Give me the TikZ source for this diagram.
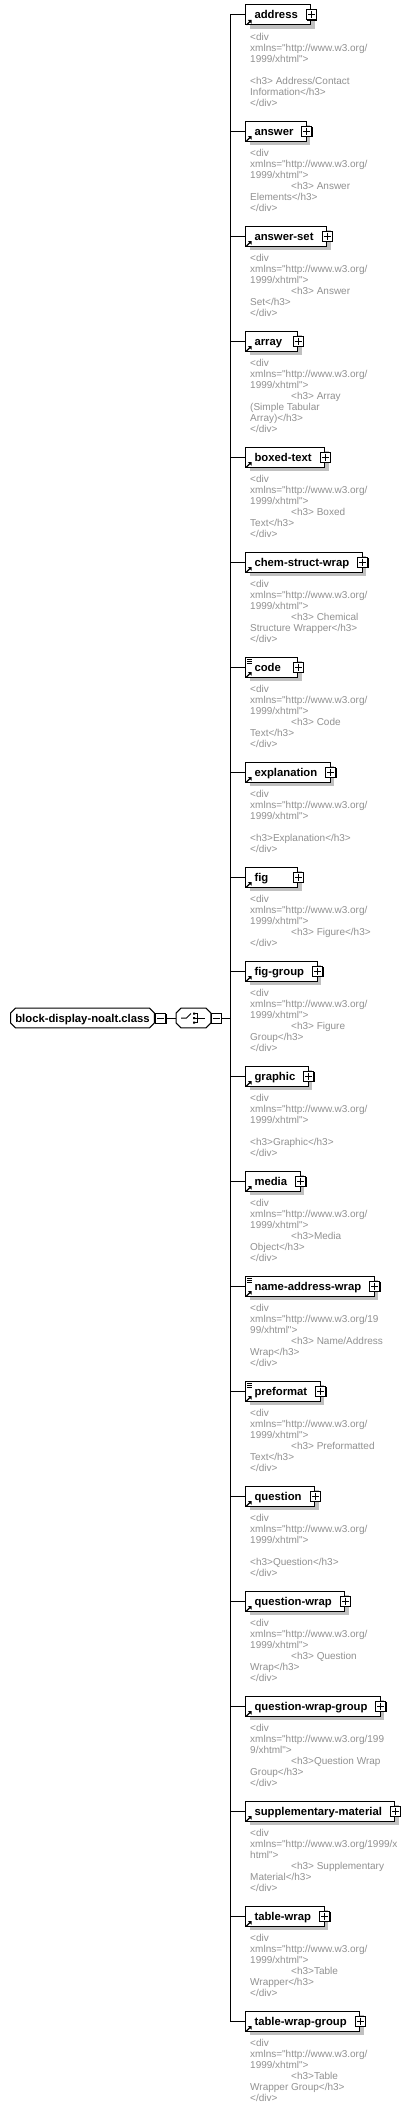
\documentclass[tikz,border=0pt]{standalone}
\usepackage{fontspec}
\usetikzlibrary{shadows,calc}
\newfontfamily\descfont{Liberation Sans}[Ligatures=TeXOff]
\newfontfamily\namefont{Liberation Sans}[Ligatures=TeXOff]
\definecolor{docgray}{RGB}{145,145,145}
\definecolor{shadowc}{RGB}{192,192,192}
\pgfdeclarelayer{bg}
\pgfsetlayers{bg,main}
\newlength\elw
\newcommand\elname[1]{\settowidth\elw{#1}\ifdim\elw<30pt\makebox[30pt][l]{#1}\else #1\fi\hspace*{4pt}}
\newcommand\ind{\hspace*{41pt}}
\newcommand\xa{xmlns="http://www.w3.org/}
\newcommand\xb{1999/xhtml">}
\tikzset{
  elbox/.style={draw=black, line width=1pt, fill=white, anchor=west, minimum height=20pt,
    inner xsep=9pt, inner ysep=0pt, text height=9.5pt, text depth=1.5pt,
    font=\namefont\bfseries\fontsize{11.3}{13}\selectfont,
    drop shadow={shadow xshift=4pt, shadow yshift=-4pt, fill=shadowc, opacity=1}},
  plusbox/.style={draw=black, line width=1pt, fill=white, minimum size=10pt, inner sep=0pt,
    drop shadow={shadow xshift=1pt, shadow yshift=-1pt, fill=black, opacity=1}},
  rootbox/.style={minimum height=19.5pt, inner xsep=0pt, inner ysep=0pt,
    text height=9.5pt, text depth=1.5pt,
    font=\namefont\bfseries\fontsize{11.3}{13}\selectfont},
  desc/.style={anchor=north west, align=left, inner sep=0pt, text=docgray,
    font=\descfont\fontsize{10}{11}\selectfont},
  conn/.style={draw=black, line width=1pt},
}
% chamfered outline of a node, drawn under it
\newcommand\octagon[1]{%
  \begin{pgfonlayer}{bg}
  \fill[shadowc, shift={(4,4)}] ($(#1.north west)+(5,0)$) -- ($(#1.north east)+(-5,0)$) -- ($(#1.north east)+(0,5)$)
    -- ($(#1.south east)+(0,-5)$) -- ($(#1.south east)+(-5,0)$) -- ($(#1.south west)+(5,0)$)
    -- ($(#1.south west)+(0,-5)$) -- ($(#1.north west)+(0,5)$) -- cycle;
  \filldraw[fill=white, draw=black, line width=1pt] ($(#1.north west)+(5,0)$) -- ($(#1.north east)+(-5,0)$) -- ($(#1.north east)+(0,5)$)
    -- ($(#1.south east)+(0,-5)$) -- ($(#1.south east)+(-5,0)$) -- ($(#1.south west)+(5,0)$)
    -- ($(#1.south west)+(0,-5)$) -- ($(#1.north west)+(0,5)$) -- cycle;
  \end{pgfonlayer}}
\newcommand\elem[5]{%
  \coordinate (b#1) at (230,{#2+10});
  \node[elbox] (#1) at (245,{#2+10}) {\elname{#3}};
  \node[plusbox] (#1p) at (#1.east) {};
  \draw[line width=1pt] ($(#1p.center)+(-3.5,0)$) -- ($(#1p.center)+(3.5,0)$)
    ($(#1p.center)+(0,-3.5)$) -- ($(#1p.center)+(0,3.5)$);
  \draw[conn] (b#1) -- (#1.west);
  \draw[line width=1.3pt] ($(#1.south west)+(1.5,-0.5)$) -- ($(#1.south west)+(5,-4)$);
  \fill ($(#1.south west)+(6.5,-5.5)$) -- ($(#1.south west)+(2.8,-5.5)$) -- ($(#1.south west)+(6.5,-1.8)$) -- cycle;
  \ifnum#4=1
    \draw[line width=0.8pt] ($(#1.north west)+(2,2.5)$) -- ++(5,0)
      ($(#1.north west)+(2,4.5)$) -- ++(5,0) ($(#1.north west)+(2,6.5)$) -- ++(5,0);
  \fi
  \node[desc] (#1d) at (250,{#2+27.5}) {\rule{0pt}{8pt}#5};
}
\begin{document}
\begin{tikzpicture}[x=1pt,y=-1pt]
\useasboundingbox (0,0) rectangle (413,2109);
\begin{pgfonlayer}{bg}
\fill[white] (0,0) rectangle (413,2109);
\end{pgfonlayer}

\elem{e1}{5}{address}{0}{<div\\\xa\\\xb\\\mbox{}\\<h3> Address/Contact\\Information</h3>\\</div>}
\elem{e2}{121}{answer}{0}{<div\\\xa\\\xb\\\ind<h3> Answer\\Elements</h3>\\</div>}
\elem{e3}{226}{answer-set}{0}{<div\\\xa\\\xb\\\ind<h3> Answer\\Set</h3>\\</div>}
\elem{e4}{331}{array}{0}{<div\\\xa\\\xb\\\ind<h3> Array\\(Simple Tabular\\Array)</h3>\\</div>}
\elem{e5}{447}{boxed-text}{0}{<div\\\xa\\\xb\\\ind<h3> Boxed\\Text</h3>\\</div>}
\elem{e6}{552}{chem-struct-wrap}{0}{<div\\\xa\\\xb\\\ind<h3> Chemical\\Structure Wrapper</h3>\\</div>}
\elem{e7}{657}{code}{1}{<div\\\xa\\\xb\\\ind<h3> Code\\Text</h3>\\</div>}
\elem{e8}{762}{explanation}{0}{<div\\\xa\\\xb\\\mbox{}\\<h3>Explanation</h3>\\</div>}
\elem{e9}{867}{fig}{0}{<div\\\xa\\\xb\\\ind<h3> Figure</h3>\\</div>}
\elem{e10}{961}{fig-group}{0}{<div\\\xa\\\xb\\\ind<h3> Figure\\Group</h3>\\</div>}
\elem{e11}{1066}{graphic}{0}{<div\\\xa\\\xb\\\mbox{}\\<h3>Graphic</h3>\\</div>}
\elem{e12}{1171}{media}{0}{<div\\\xa\\\xb\\\ind<h3>Media\\Object</h3>\\</div>}
\elem{e13}{1276}{name-address-wrap}{1}{<div\\\xa19\\99/xhtml">\\\ind<h3> Name/Address\\Wrap</h3>\\</div>}
\elem{e14}{1381}{preformat}{1}{<div\\\xa\\\xb\\\ind<h3> Preformatted\\Text</h3>\\</div>}
\elem{e15}{1486}{question}{0}{<div\\\xa\\\xb\\\mbox{}\\<h3>Question</h3>\\</div>}
\elem{e16}{1591}{question-wrap}{0}{<div\\\xa\\\xb\\\ind<h3> Question\\Wrap</h3>\\</div>}
\elem{e17}{1696}{question-wrap-group}{0}{<div\\\xa199\\9/xhtml">\\\ind<h3>Question Wrap\\Group</h3>\\</div>}
\elem{e18}{1801}{supplementary-material}{0}{<div\\\xa1999/x\\html">\\\ind<h3> Supplementary\\Material</h3>\\</div>}
\elem{e19}{1906}{table-wrap}{0}{<div\\\xa\\\xb\\\ind<h3>Table\\Wrapper</h3>\\</div>}
\elem{e20}{2011}{table-wrap-group}{0}{<div\\\xa\\\xb\\\ind<h3>Table\\Wrapper Group</h3>\\</div>}

\draw[conn] (be1) -- (be20);

\node[rootbox, minimum width=143.5pt] (root) at (82.5,1018) {block-display-noalt.class};
\octagon{root}
\node[plusbox] (rootm) at (160.5,1018) {};
\draw[line width=1pt] ($(rootm.center)+(-3.5,0)$) -- ($(rootm.center)+(3.5,0)$);
\node[rootbox, minimum width=34.5pt] (seq) at (193.5,1018) {};
\octagon{seq}
\node[plusbox] (seqm) at (216,1018) {};
\draw[line width=1pt] ($(seqm.center)+(-3.5,0)$) -- ($(seqm.center)+(3.5,0)$);
\coordinate (bmid) at (230,1018);
\draw[conn] (rootm.east) -- (seq.west);
\draw[conn] (seqm.east) -- (bmid);
% sequence icon
\draw[line width=1pt] (181,1018) -- (186.5,1018) -- (191,1013.5);
\fill (193,1012.5) rectangle (195,1014.5) (193,1017) rectangle (195,1019) (193,1021.5) rectangle (195,1023.5);
\draw[line width=1pt] (195,1013.5) -- (197,1013.5) (195,1018) -- (204.5,1018) (195,1022.5) -- (197,1022.5) (197,1013) -- (197,1023);
\end{tikzpicture}
\end{document}
